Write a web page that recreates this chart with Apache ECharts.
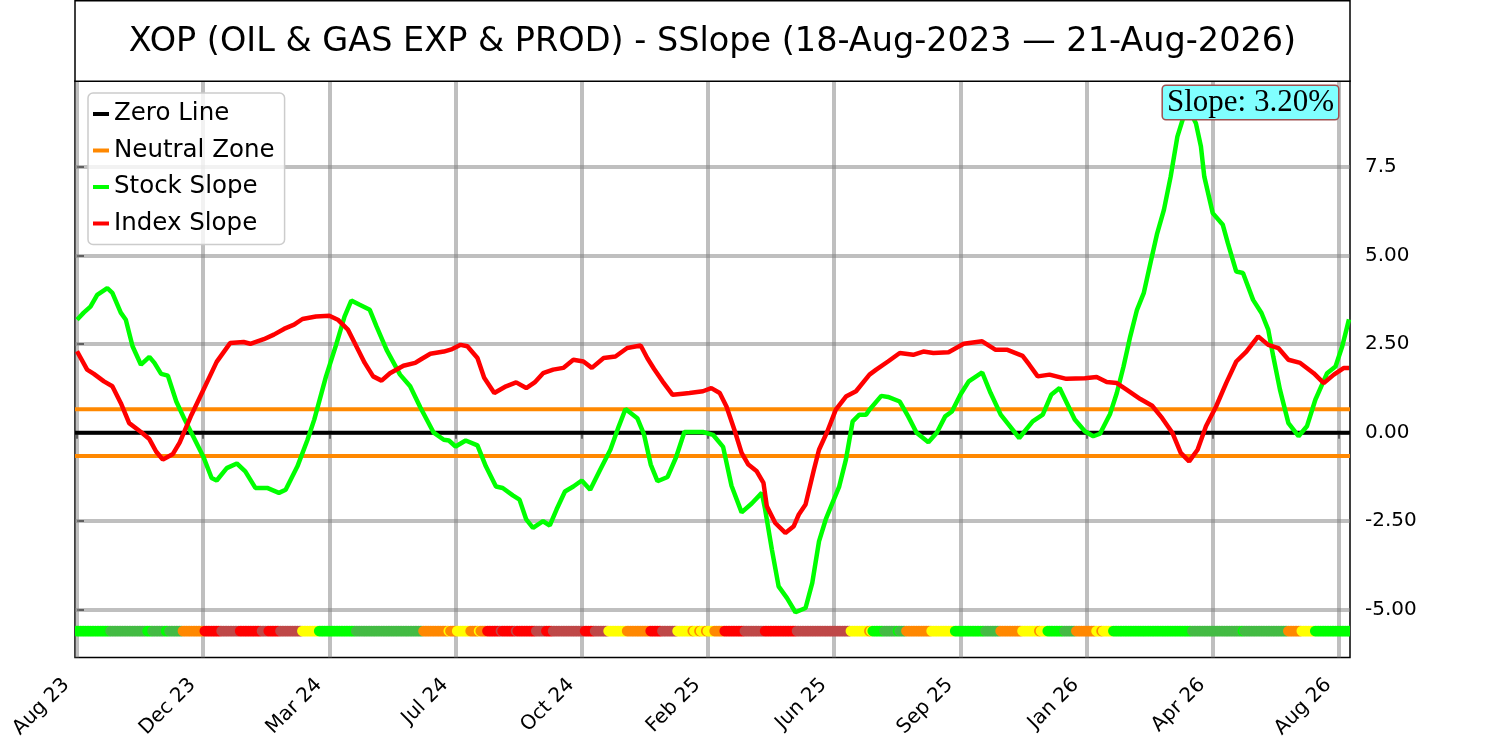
<!DOCTYPE html>
<html>
<head>
<meta charset="utf-8">
<title>XOP SSlope</title>
<script src="https://cdn.jsdelivr.net/npm/echarts@6.0.0/dist/echarts.min.js"></script>
<style>
  html, body { margin: 0; padding: 0; background: #fff; }
  #chart { width: 1500px; height: 741px; }
</style>
</head>
<body>
<div id="chart"></div>
<script>
// x is the trading-day index from 18-Aug-2023
const xTickDays = [0, 75, 150, 225, 300, 375, 450, 525, 600, 675, 750];
const xTickLabels = ['Aug 23', 'Dec 23', 'Mar 24', 'Jul 24', 'Oct 24', 'Feb 25', 'Jun 25', 'Sep 25', 'Jan 26', 'Apr 26', 'Aug 26'];
const yTickValues = [-5, -2.5, 0, 2.5, 5, 7.5];
const yTickLabels = ['-5.00', '-2.50', '0.00', '2.50', '5.00', '7.5'];
const lastDay = 756;
const xMin = -1.2;
const xMax = 756.6;
const neutralBand = 0.66;
const signalLevel = -5.6;

// [day, slope %]
const stockSlope = [
  [0,3.19],[4,3.39],[8,3.56],[12,3.89],[18,4.08],[21,3.95],[26,3.39],[29,3.19],[33,2.44],[38,1.92],
  [43,2.14],[46,1.97],[50,1.66],[54,1.61],[59,0.88],[64,0.37],[69,-0.10],[75,-0.67],[80,-1.28],[83,-1.35],
  [89,-1.00],[95,-0.87],[100,-1.09],[106,-1.56],[113,-1.56],[120,-1.70],[124,-1.61],[131,-0.95],[137,-0.20],[141,0.37],
  [148,1.59],[154,2.48],[159,3.28],[163,3.73],[168,3.61],[174,3.47],[178,3.00],[184,2.34],[192,1.64],[198,1.31],
  [204,0.72],[212,0.0],[218,-0.20],[221,-0.22],[225,-0.39],[231,-0.22],[238,-0.36],[243,-0.95],[249,-1.52],[253,-1.56],
  [259,-1.77],[263,-1.89],[267,-2.45],[271,-2.69],[277,-2.50],[281,-2.62],[285,-2.17],[290,-1.66],[295,-1.52],[300,-1.35],
  [305,-1.61],[311,-1.04],[317,-0.48],[322,0.18],[326,0.67],[333,0.41],[337,-0.05],[341,-0.90],[345,-1.37],[351,-1.25],
  [356,-0.70],[361,0.02],[368,0.02],[372,0.02],[378,-0.06],[384,-0.40],[389,-1.50],[395,-2.25],[401,-2.00],[407,-1.70],
  [409,-2.17],[413,-3.30],[417,-4.34],[422,-4.67],[427,-5.07],[433,-4.95],[437,-4.24],[441,-3.07],[445,-2.45],[449,-1.98],
  [453,-1.52],[457,-0.76],[461,0.32],[465,0.51],[469,0.51],[471,0.65],[478,1.04],[482,1.01],[489,0.88],[494,0.46],
  [499,0.0],[506,-0.27],[511,0.0],[516,0.46],[520,0.60],[525,1.07],[530,1.45],[538,1.70],[543,1.12],[549,0.51],
  [553,0.27],[560,-0.15],[568,0.32],[574,0.51],[579,1.07],[584,1.26],[593,0.37],[599,0.04],[604,-0.10],[608,-0.03],
  [614,0.53],[618,1.12],[622,1.87],[626,2.72],[630,3.47],[634,3.94],[638,4.79],[642,5.63],[646,6.29],[650,7.23],
  [654,8.36],[658,8.97],[662,9.02],[665,8.74],[668,8.08],[670,7.23],[675,6.20],[681,5.87],[684,5.35],[689,4.55],
  [693,4.51],[699,3.75],[704,3.38],[708,2.91],[711,2.15],[715,1.21],[720,0.27],[726,-0.10],[731,0.18],[736,0.93],
  [743,1.68],[748,1.87],[752,2.44],[756,3.20]
];

const indexSlope = [
  [0,2.30],[6,1.78],[10,1.66],[16,1.45],[21,1.31],[26,0.84],[31,0.27],[38,0.02],[43,-0.18],[47,-0.53],
  [51,-0.76],[57,-0.60],[61,-0.28],[68,0.50],[75,1.20],[83,2.00],[91,2.53],[99,2.56],[103,2.51],[111,2.64],
  [117,2.77],[123,2.93],[129,3.05],[134,3.21],[142,3.28],[150,3.30],[155,3.19],[161,2.91],[166,2.44],[171,1.97],
  [176,1.59],[181,1.47],[186,1.68],[194,1.89],[201,1.97],[204,2.06],[210,2.23],[218,2.29],[223,2.36],[228,2.48],
  [232,2.44],[238,2.11],[242,1.55],[248,1.12],[255,1.31],[261,1.42],[267,1.26],[272,1.42],[277,1.68],[283,1.78],
  [289,1.83],[295,2.06],[301,2.01],[306,1.83],[313,2.11],[320,2.15],[327,2.39],[335,2.46],[339,2.10],[343,1.80],
  [348,1.45],[354,1.07],[360,1.10],[364,1.12],[372,1.17],[377,1.26],[382,1.12],[386,0.74],[391,0.04],[395,-0.57],
  [399,-0.90],[404,-1.09],[408,-1.42],[410,-2.08],[415,-2.55],[421,-2.83],[426,-2.64],[429,-2.31],[433,-2.03],[438,-1.04],
  [441,-0.48],[446,0.04],[451,0.65],[457,1.02],[463,1.17],[471,1.64],[475,1.78],[482,2.01],[489,2.25],[497,2.20],
  [503,2.29],[509,2.25],[518,2.27],[527,2.51],[538,2.58],[546,2.34],[553,2.34],[562,2.17],[566,1.92],[571,1.59],
  [578,1.64],[588,1.52],[599,1.54],[606,1.57],[612,1.43],[618,1.40],[624,1.21],[632,0.95],[639,0.76],[645,0.41],
  [651,0.0],[656,-0.57],[661,-0.81],[666,-0.48],[671,0.18],[677,0.74],[683,1.40],[689,2.01],[695,2.29],[702,2.72],
  [708,2.48],[714,2.39],[720,2.06],[727,1.97],[735,1.68],[741,1.40],[747,1.64],[753,1.83],[756,1.83]
];

// daily signal colour: [first day, colour key], each run lasts until the next one starts
const signalRuns = [
  [0,'G'],[20,'g'],[42,'G'],[45,'g'],[53,'G'],[55,'g'],[63,'O'],[76,'R'],[86,'B'],[97,'R'],
  [110,'B'],[114,'R'],[121,'B'],[134,'Y'],[144,'G'],[166,'g'],[206,'O'],[221,'Y'],[222,'O'],[226,'Y'],
  [234,'O'],[239,'Y'],[240,'O'],[244,'R'],[252,'B'],[253,'R'],[261,'B'],[262,'R'],[273,'B'],[279,'R'],
  [283,'B'],[302,'R'],[308,'B'],[316,'Y'],[327,'O'],[341,'R'],[348,'B'],[357,'Y'],[366,'O'],[367,'Y'],
  [370,'O'],[371,'Y'],[374,'O'],[375,'Y'],[379,'O'],[385,'R'],[397,'B'],[409,'R'],[428,'B'],[460,'Y'],
  [471,'O'],[472,'Y'],[473,'G'],[480,'g'],[488,'G'],[489,'g'],[493,'O'],[508,'Y'],[522,'G'],[540,'g'],
  [549,'O'],[562,'Y'],[572,'O'],[573,'Y'],[577,'G'],[587,'g'],[594,'O'],[606,'Y'],[609,'O'],[610,'Y'],
  [616,'G'],[663,'g'],[693,'G'],[694,'g'],[720,'O'],[728,'Y'],[736,'G']
];
const signalColors = { G: '#00ff00', g: '#44bb44', O: '#ff8800', Y: '#ffff00', R: '#ff0000', B: '#bf4848' };
const signalKeys = Object.keys(signalColors);

// one dot per trading day: [day, level, colour index]
const signalDots = [];
signalRuns.forEach((run, i) => {
  const end = i + 1 < signalRuns.length ? signalRuns[i + 1][0] : lastDay + 1;
  for (let d = run[0]; d < end; d++) {
    signalDots.push([d, signalLevel, signalKeys.indexOf(run[1])]);
  }
});

const FONT = 'DejaVu Sans';
const gridColor = 'rgba(128,128,128,0.5)';
const lastSlope = stockSlope[stockSlope.length - 1][1];

const chart = echarts.init(document.getElementById('chart'));

const gridMarks = xTickDays.map(d => ({ xAxis: d })).concat(yTickValues.map(v => ({ yAxis: v })));

const renderDot = (params, api) => {
  const p = api.coord([api.value(0), api.value(1)]);
  return {
    type: 'circle',
    shape: { cx: p[0], cy: p[1], r: 5.4 },
    style: { fill: signalColors[signalKeys[api.value(2)]] }
  };
};

const hLine = (name, y, color, z) => ({
  name: name, type: 'line', data: [[xMin, y], [xMax, y]], z: z,
  showSymbol: false, color: color, lineStyle: { color: color, width: 4 }
});

const options = {
  animation: false,
  backgroundColor: '#ffffff',
  grid: {
    left: 75, right: 150, top: 81, bottom: 83,
    show: true, borderColor: '#000', borderWidth: 1.5, backgroundColor: 'transparent'
  },
  graphic: [
    {
      type: 'rect', shape: { x: 75, y: 0.75, width: 1275, height: 80.5 },
      style: { fill: '#fff', stroke: '#000', lineWidth: 1.5 }, z: 10
    },
    {
      type: 'text', x: 712.5, y: 42, z: 11,
      style: {
        text: 'XOP (OIL & GAS EXP & PROD) - SSlope (18-Aug-2023 \u2014 21-Aug-2026)',
        font: '33.5px "DejaVu Sans"', fill: '#000', align: 'center', verticalAlign: 'middle'
      }
    },
    {
      type: 'text', x: 1338, y: 86, z: 20,
      style: {
        text: 'Slope: ' + lastSlope.toFixed(2) + '%',
        font: '31px "Liberation Serif"', fill: '#000', align: 'right', verticalAlign: 'top',
        backgroundColor: '#80ffff', borderColor: '#a05050', borderWidth: 1.5, borderRadius: 3,
        padding: [1, 4, 1, 4]
      }
    }
  ],
  legend: {
    data: ['Zero Line', 'Neutral Zone', 'Stock Slope', 'Index Slope'],
    orient: 'vertical', left: 88, top: 93,
    icon: 'rect', itemWidth: 16, itemHeight: 4, itemGap: 10.5,
    padding: [8, 10, 8, 5],
    backgroundColor: 'rgba(255,255,255,0.8)', borderColor: '#cccccc', borderWidth: 1.5, borderRadius: 5,
    textStyle: { fontFamily: FONT, fontSize: 24.5, color: '#000', lineHeight: 26 },
    z: 15
  },
  xAxis: {
    type: 'value', min: xMin, max: xMax,
    axisLine: { show: false },
    splitLine: { show: false },
    axisTick: { show: true, customValues: xTickDays, length: 6, lineStyle: { color: '#000', width: 1.5 } },
    axisLabel: {
      customValues: xTickDays, rotate: 45, margin: 13.5, padding: [0, 15, 0, 0],
      fontFamily: FONT, fontSize: 20, color: '#000',
      formatter: v => xTickLabels[xTickDays.indexOf(v)] || ''
    }
  },
  yAxis: {
    type: 'value', position: 'right', min: -6.35, max: 9.93,
    axisLine: { show: false },
    splitLine: { show: false },
    axisTick: { show: true, customValues: yTickValues, length: 7, lineStyle: { color: '#000', width: 1.5 } },
    axisLabel: {
      customValues: yTickValues, margin: 15,
      fontFamily: FONT, fontSize: 20, color: '#000',
      formatter: v => yTickLabels[yTickValues.indexOf(v)] || ''
    }
  },
  series: [
    {
      name: 'grid', type: 'line', data: [], z: 1, silent: true,
      markLine: {
        z: 1, silent: true, symbol: 'none', label: { show: false }, animation: false,
        lineStyle: { color: gridColor, width: 4, type: 'solid' },
        data: gridMarks
      }
    },
    hLine('Zero Line', 0, '#000', 2),
    hLine('Neutral Zone', neutralBand, '#ff8800', 2),
    hLine('Neutral Zone', -neutralBand, '#ff8800', 2),
    {
      name: 'Stock Slope', type: 'line', data: stockSlope, z: 3,
      showSymbol: false, color: '#00ff00', lineStyle: { color: '#00ff00', width: 4.5 }
    },
    {
      name: 'Index Slope', type: 'line', data: indexSlope, z: 4,
      showSymbol: false, color: '#ff0000', lineStyle: { color: '#ff0000', width: 4.5 }
    },
    {
      name: 'signal', type: 'custom', data: signalDots, z: 5,
      clip: true, silent: true, renderItem: renderDot
    }
  ]
};

chart.setOption(options);
</script>
</body>
</html>
